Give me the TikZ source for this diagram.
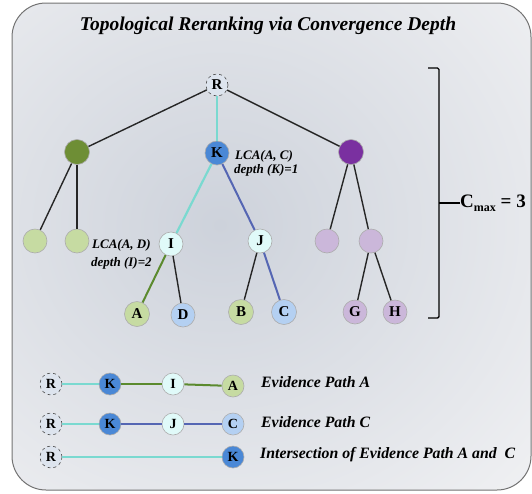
\documentclass[tikz,border=0pt]{standalone}
\usepackage{fontspec}
\setmainfont{Liberation Serif}
\usetikzlibrary{positioning}

\definecolor{bgout}{HTML}{F6F6F7}
\definecolor{bgmid}{HTML}{CDD2DB}
\definecolor{rootfill}{HTML}{DDE4EE}
\definecolor{kfill}{HTML}{4A88D6}
\definecolor{olive}{HTML}{6E8E35}
\definecolor{plum}{HTML}{7A30A0}
\definecolor{lgreen}{HTML}{C6DBA2}
\definecolor{lcyan}{HTML}{E0FAF9}
\definecolor{lplum}{HTML}{CBB7DA}
\definecolor{lblue}{HTML}{B4D0F2}
\definecolor{edgecyan}{HTML}{7AD9D0}
\definecolor{edgeblue}{HTML}{5566B3}
\definecolor{edgegreen}{HTML}{5B8A2E}

\begin{document}
\begin{tikzpicture}[x=1pt,y=-1pt,
		vtx/.style={circle,draw=gray!65,line width=0.6pt,inner sep=0pt,minimum size=24pt,font=\fontsize{15}{15}\selectfont\bfseries},
		rootvtx/.style={vtx,dashed,draw=black!70,fill=rootfill,minimum size=22pt},
		smallvtx/.style={vtx,minimum size=22pt,font=\fontsize{14}{14}\selectfont\bfseries},
		smallroot/.style={smallvtx,dashed,draw=black!70,fill=rootfill},
		tedge/.style={line width=1.4pt,black!85},
		cedge/.style={line width=2.2pt,edgecyan},
		bedge/.style={line width=2pt,edgeblue},
		gedge/.style={line width=2pt,edgegreen},
		lbl/.style={font=\fontsize{13}{14}\selectfont\bfseries\itshape,inner sep=0pt,anchor=west},
		pathlbl/.style={font=\fontsize{15.8}{16}\selectfont\bfseries\itshape,inner sep=0pt,anchor=west}]
	\useasboundingbox (0,0) rectangle (532,493);
	
	\begin{scope}
		\clip[rounded corners=34pt] (12,3) rectangle (531,490);
		\fill[bgout] (0,0) rectangle (532,493);
		\shade[inner color=bgmid,outer color=bgout] (220,225) ellipse (500 and 460);
	\end{scope}
	\draw[gray!90!black,line width=1pt,rounded corners=34pt] (12,3) rectangle (531,490);
	
	\node[font=\fontsize{19.5}{20}\selectfont\bfseries\itshape,anchor=base] (title) at (268,30) {Topological Reranking via Convergence Depth};
	
	\node[rootvtx] (r) at (217,85) {R};
	\node[vtx,fill=olive,minimum size=25pt] (gn) at (77,152) {};
	\node[vtx,fill=kfill] (k) at (217,153) {K};
	\node[vtx,fill=plum,minimum size=25pt] (pn) at (351,152) {};
	
	\node[vtx,fill=lgreen] (gl1) at (35,241) {};
	\node[vtx,fill=lgreen] (gl2) at (77,241) {};
	\node[vtx,fill=lcyan] (i) at (171,244) {I};
	\node[vtx,fill=lcyan] (j) at (260,241) {J};
	\node[vtx,fill=lplum] (pl1) at (327,241) {};
	\node[vtx,fill=lplum] (pl2) at (371,241) {};
	
	\node[vtx,fill=lgreen,minimum size=25pt] (a) at (137,314) {A};
	\node[vtx,fill=lblue] (d) at (183,315) {D};
	\node[vtx,fill=lgreen,minimum size=25pt] (b) at (241,312) {B};
	\node[vtx,fill=lblue,minimum size=25pt] (c) at (284,312) {C};
	\node[vtx,fill=lplum] (g) at (355,312) {G};
	\node[vtx,fill=lplum] (h) at (395,312) {H};
	
	\draw[tedge] (r) -- (gn);
	\draw[tedge] (r) -- (pn);
	\draw[cedge] (r) -- (k);
	\draw[tedge] (gn) -- (gl1);
	\draw[tedge] (gn) -- (gl2);
	\draw[cedge] (k) -- (i);
	\draw[bedge] (k) -- (j);
	\draw[gedge] (i) -- (a);
	\draw[tedge] (i) -- (d);
	\draw[tedge] (j) -- (b);
	\draw[bedge] (j) -- (c);
	\draw[tedge] (pn) -- (pl1);
	\draw[tedge] (pn) -- (pl2);
	\draw[tedge] (pl2) -- (g);
	\draw[tedge] (pl2) -- (h);
	
	\node[lbl] (lcak) at (235,156) {LCA(A, C)};
	\node[lbl] (depk) at (234,170) {depth (K)=1};
	\node[lbl] (lcai) at (92,245) {LCA(A, D)};
	\node[lbl] (depi) at (91,263) {depth (I)=2};
	
	\draw[line width=1.4pt,rounded corners=1.5pt] (428,68) -- (439,68) -- (439,318) -- (428,318);
	\coordinate (brk) at (439,203);
	\node[font=\fontsize{19}{19}\selectfont\bfseries,anchor=west,inner sep=0pt] (cmax) at (460,203) {C\raisebox{-4pt}{\fontsize{12}{12}\selectfont max} = 3};
	\draw[line width=1.4pt] (brk) -- (cmax.west);
	
	\node[smallroot] (ar) at (51,384) {R};
	\node[smallvtx,fill=kfill] (ak) at (110,384) {K};
	\node[smallvtx,fill=lcyan] (ai) at (173,384) {I};
	\node[smallvtx,fill=lgreen] (aa) at (233,386) {A};
	\draw[cedge] (ar) -- (ak);
	\draw[gedge] (ak) -- (ai);
	\draw[gedge] (ai) -- (aa);
	\node[pathlbl] (pa) at (261,382) {Evidence Path A};
	
	\node[smallroot] (cr) at (51,424) {R};
	\node[smallvtx,fill=kfill] (ck) at (110,424) {K};
	\node[smallvtx,fill=lcyan] (cj) at (173,424) {J};
	\node[smallvtx,fill=lblue] (cc) at (233,424) {C};
	\draw[cedge] (cr) -- (ck);
	\draw[bedge] (ck) -- (cj);
	\draw[bedge] (cj) -- (cc);
	\node[pathlbl] (pc) at (261,422) {Evidence Path C};
	
	\node[smallroot] (xr) at (51,457) {R};
	\node[smallvtx,fill=kfill] (xk) at (233,457) {K};
	\draw[cedge] (xr) -- (xk);
	\node[pathlbl] (px) at (260,455) {Intersection of Evidence Path A and~ C};
\end{tikzpicture}
\end{document}
